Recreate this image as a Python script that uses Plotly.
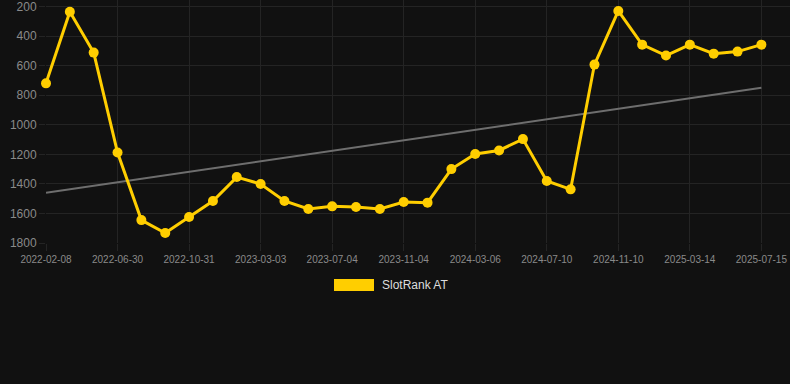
import plotly.graph_objects as go

dates = [
    "2022-02-08", "2022-03-27", "2022-05-13", "2022-06-30", "2022-08-10", "2022-09-20",
    "2022-10-31", "2022-12-11", "2023-01-21", "2023-03-03", "2023-04-13", "2023-05-24",
    "2023-07-04", "2023-08-14", "2023-09-24", "2023-11-04", "2023-12-15", "2024-01-25",
    "2024-03-06", "2024-04-17", "2024-05-29", "2024-07-10", "2024-08-20", "2024-09-30",
    "2024-11-10", "2024-12-21", "2025-01-31", "2025-03-14", "2025-04-24", "2025-06-04",
    "2025-07-15",
]
rank = [
    720, 235, 512, 1188, 1645, 1732,
    1624, 1516, 1354, 1401, 1516, 1570,
    1552, 1557, 1570, 1523, 1527, 1300,
    1198, 1174, 1097, 1380, 1437, 593,
    230, 458, 532, 458, 519, 505,
    458,
]
tick_labels = dates[::3]
y_ticks = [200, 400, 600, 800, 1000, 1200, 1400, 1600, 1800]
trend_start = 1460
trend_end = 750
series_name = "SlotRank AT"

gold = "#FFCE00"
grid = "#242424"
bg = "#111111"

fig = go.Figure()
fig.add_trace(go.Scatter(
    x=[dates[0], dates[-1]], y=[trend_start, trend_end], mode="lines",
    line=dict(color="#6e6e6e", width=2), showlegend=False, hoverinfo="skip",
    cliponaxis=False,
))
fig.add_trace(go.Scatter(
    x=dates, y=rank, mode="lines+markers", name=series_name,
    line=dict(color=gold, width=3), marker=dict(color=gold, size=10),
    showlegend=False, cliponaxis=False,
))

fig.update_layout(
    width=790, height=384,
    margin=dict(l=46, r=0, t=0, b=141),
    paper_bgcolor=bg, plot_bgcolor=bg,
    font=dict(family="Liberation Sans, Arial, sans-serif", color="#8a8a8a"),
    showlegend=False,
    xaxis=dict(
        type="category", categoryorder="array", categoryarray=dates,
        range=[0, 31.2], tickmode="array", tickvals=tick_labels, ticktext=tick_labels,
        showgrid=True, gridcolor=grid, gridwidth=1, zeroline=False,
        ticks="outside", ticklen=7, tickcolor=grid, tickfont=dict(size=10, color="#8a8a8a"),
        showline=False,
    ),
    yaxis=dict(
        range=[1800, 156], tickmode="array", tickvals=y_ticks,
        showgrid=True, gridcolor=grid, gridwidth=1, zeroline=False,
        ticks="outside", ticklen=6, tickcolor=grid, tickfont=dict(size=12, color="#8a8a8a"),
        showline=False, ticklabeloverflow="allow",
    ),
    shapes=[dict(type="rect", xref="paper", yref="paper",
                 x0=(334 - 46) / 744, x1=(374 - 46) / 744,
                 y0=(243 - 291) / 243, y1=(243 - 279) / 243,
                 fillcolor=gold, line=dict(width=0))],
    annotations=[dict(text=series_name, xref="paper", yref="paper",
                      x=(380 - 46) / 744, y=(243 - 285) / 243, xanchor="left", yanchor="middle",
                      showarrow=False, font=dict(size=12, color="#dddddd"))],
)

fig.write_html("out.html", config={"displayModeBar": False, "staticPlot": True})

with open("out.html", "r", encoding="utf-8") as f:
    html = f.read()
html = html.replace("<head>", "<head><style>html,body{margin:0;padding:0;background:#111111;overflow:hidden;}</style>", 1)
with open("out.html", "w", encoding="utf-8") as f:
    f.write(html)
